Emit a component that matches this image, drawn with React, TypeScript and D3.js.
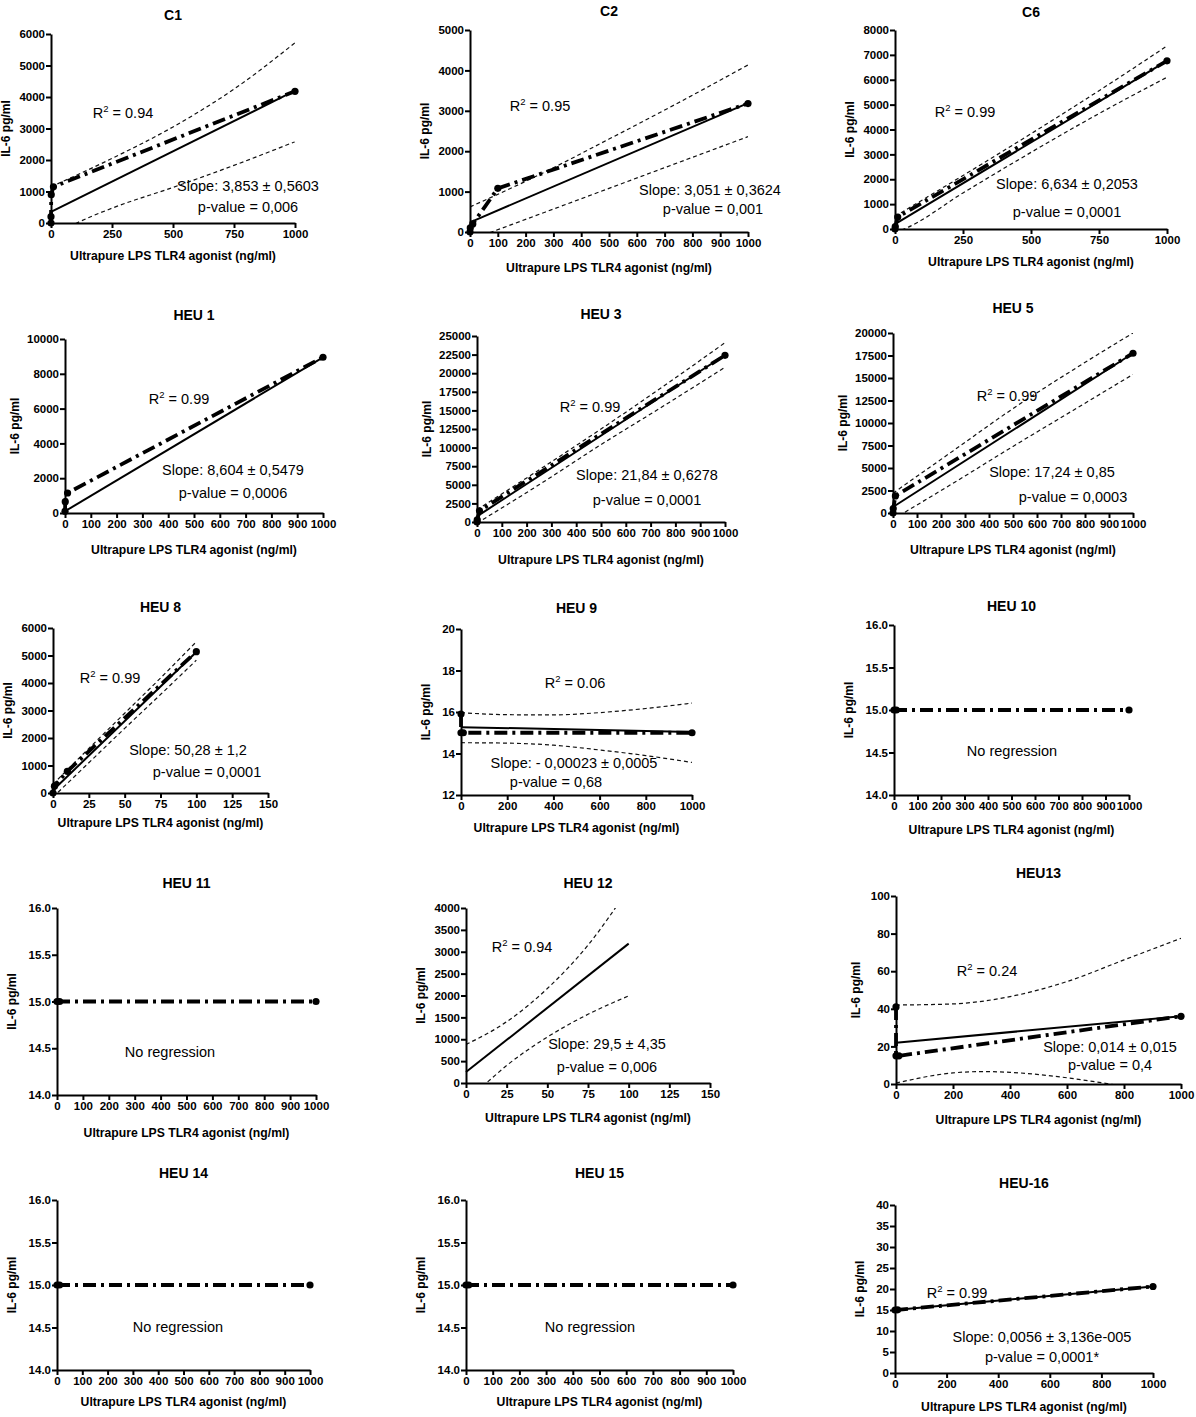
import React, { useEffect, useRef } from "react";
import * as d3 from "d3";

type Pt = [number, number];

// tick labels
const ticks1000by250 = [0, 250, 500, 750, 1000];
const ticks1000by100 = [0, 100, 200, 300, 400, 500, 600, 700, 800, 900, 1000];
const ticks1000by200 = [0, 200, 400, 600, 800, 1000];
const ticks150by25 = [0, 25, 50, 75, 100, 125, 150];

// C1
const c1Points: Pt[] = [[0, 0], [0, 200], [1, 900], [10, 1150], [1000, 4180]];
const c1Fit: Pt[] = [[0, 350], [1000, 4200]];
const c1Upper: Pt[] = [[0, 1150], [250, 2050], [500, 3050], [750, 4250], [1000, 5720]];
const c1Lower: Pt[] = [[0, -450], [106, 0], [250, 470], [500, 1130], [750, 1830], [1000, 2580]];

// C2
const c2Points: Pt[] = [[0, 0], [1, 100], [10, 200], [100, 1080], [1000, 3180]];
const c2Fit: Pt[] = [[0, 240], [1000, 3190]];
const c2Upper: Pt[] = [[0, 620], [250, 1420], [500, 2300], [750, 3200], [1000, 4135]];
const c2Lower: Pt[] = [[0, -200], [78, 0], [250, 440], [500, 1080], [750, 1720], [1000, 2360]];

// C6
const c6Points: Pt[] = [[0, 0], [1, 100], [10, 480], [1000, 6760]];
const c6Fit: Pt[] = [[0, 200], [1000, 6760]];
const c6Upper: Pt[] = [[0, 510], [250, 2150], [500, 3830], [750, 5560], [1000, 7360]];
const c6Lower: Pt[] = [[0, -130], [33, 0], [250, 1450], [500, 3080], [750, 4640], [1000, 6100]];

// HEU 1
const heu1Points: Pt[] = [[0, 100], [1, 650], [10, 1150], [1000, 8950]];
const heu1Fit: Pt[] = [[0, 100], [1000, 8950]];

// HEU 3
const heu3Points: Pt[] = [[0, 0], [1, 300], [10, 1500], [1000, 22400]];
const heu3Fit: Pt[] = [[0, 760], [1000, 22450]];
const heu3Upper: Pt[] = [[0, 1650], [250, 7000], [500, 12500], [750, 18200], [1000, 24100]];
const heu3Lower: Pt[] = [[0, -150], [250, 5000], [500, 10400], [750, 15550], [1000, 20800]];

// HEU 5
const heu5Points: Pt[] = [[0, 0], [1, 500], [10, 1900], [1000, 17750]];
const heu5Fit: Pt[] = [[0, 670], [1000, 17750]];
const heu5Upper: Pt[] = [[0, 2200], [250, 6900], [500, 11600], [750, 15900], [1000, 20000]];
const heu5Lower: Pt[] = [[0, -700], [250, 3300], [500, 7400], [750, 11400], [1000, 15400]];

// HEU 8
const heu8Points: Pt[] = [[0, 0], [1, 250], [10, 790], [100, 5140]];
const heu8Fit: Pt[] = [[0, 100], [100, 5130]];
const heu8Upper: Pt[] = [[0, 320], [25, 1620], [50, 2900], [75, 4180], [100, 5500]];
const heu8Lower: Pt[] = [[0, -150], [25, 1100], [50, 2350], [75, 3580], [100, 4830]];

// HEU 9
const heu9Points: Pt[] = [[0, 15.9], [0, 15], [10, 15], [1000, 15]];
const heu9Fit: Pt[] = [[0, 15.27], [1000, 15.04]];
const heu9Upper: Pt[] = [[0, 15.97], [200, 15.87], [400, 15.86], [600, 15.97], [800, 16.17], [1000, 16.43]];
const heu9Lower: Pt[] = [[0, 14.52], [200, 14.5], [400, 14.4], [600, 14.17], [800, 13.9], [1000, 13.57]];

// HEU 10, 11, 14, 15 (no regression)
const heu10Points: Pt[] = [[0, 15], [10, 15], [1000, 15]];
const heu11Points: Pt[] = [[0, 15], [10, 15], [1000, 15]];
const heu14Points: Pt[] = [[0, 15], [10, 15], [1000, 15]];
const heu15Points: Pt[] = [[0, 15], [10, 15], [1000, 15]];

// HEU 12
const heu12Fit: Pt[] = [[0, 250], [100, 3185]];
const heu12Upper: Pt[] = [[0, 880], [25, 1400], [50, 2160], [75, 3150], [100, 4450]];
const heu12Lower: Pt[] = [[0, -380], [12.5, 0], [25, 400], [50, 1050], [75, 1570], [100, 1990]];

// HEU13
const heu13Points: Pt[] = [[0, 41], [0, 15], [10, 15], [1000, 36]];
const heu13Fit: Pt[] = [[0, 22], [1000, 36]];
const heu13Upper: Pt[] = [[0, 42], [200, 42.6], [400, 46.5], [600, 54.5], [800, 66], [1000, 77.5]];
const heu13Lower: Pt[] = [[0, 0.5], [200, 5.9], [300, 6.6], [400, 6.2], [600, 3.3], [750, 0], [1000, -6]];

// HEU-16
const heu16Points: Pt[] = [[0, 15], [10, 15.05], [1000, 20.6]];
const heu16Fit: Pt[] = [[0, 15], [1000, 20.6]];

interface Panel {
  title: string;
  box: [number, number, number, number]; // left, right, top, bottom
  titleY: number;
  xLabelY: number;
  xDomain: [number, number];
  xTicks: number[];
  yDomain: [number, number];
  yStep: number;
  yFmt?: string;
  points?: Pt[];
  fit?: Pt[];
  upper?: Pt[];
  lower?: Pt[];
  r2?: string;
  slope?: string;
  pval?: string;
  r2At?: Pt;
  slopeAt?: Pt;
  pAt?: Pt;
  noRegAt?: Pt;
}

const panels: Panel[] = [
  {
    title: "C1", box: [51, 295, 34, 223], titleY: 15, xLabelY: 256,
    xDomain: [0, 1000], xTicks: ticks1000by250, yDomain: [0, 6000], yStep: 1000,
    points: c1Points, fit: c1Fit, upper: c1Upper, lower: c1Lower,
    r2: "0.94", slope: "Slope: 3,853 ± 0,5603", pval: "p-value = 0,006",
    r2At: [123, 113], slopeAt: [248, 186], pAt: [248, 207],
  },
  {
    title: "C2", box: [470, 748, 30, 232], titleY: 11, xLabelY: 268,
    xDomain: [0, 1000], xTicks: ticks1000by100, yDomain: [0, 5000], yStep: 1000,
    points: c2Points, fit: c2Fit, upper: c2Upper, lower: c2Lower,
    r2: "0.95", slope: "Slope: 3,051 ± 0,3624", pval: "p-value = 0,001",
    r2At: [540, 106], slopeAt: [710, 190], pAt: [713, 209],
  },
  {
    title: "C6", box: [895, 1167, 30, 229], titleY: 12, xLabelY: 262,
    xDomain: [0, 1000], xTicks: ticks1000by250, yDomain: [0, 8000], yStep: 1000,
    points: c6Points, fit: c6Fit, upper: c6Upper, lower: c6Lower,
    r2: "0.99", slope: "Slope: 6,634 ± 0,2053", pval: "p-value = 0,0001",
    r2At: [965, 112], slopeAt: [1067, 184], pAt: [1067, 212],
  },
  {
    title: "HEU 1", box: [65, 323, 339, 513], titleY: 315, xLabelY: 550,
    xDomain: [0, 1000], xTicks: ticks1000by100, yDomain: [0, 10000], yStep: 2000,
    points: heu1Points, fit: heu1Fit,
    r2: "0.99", slope: "Slope: 8,604 ± 0,5479", pval: "p-value = 0,0006",
    r2At: [179, 399], slopeAt: [233, 470], pAt: [233, 493],
  },
  {
    title: "HEU 3", box: [477, 725, 336, 522], titleY: 314, xLabelY: 560,
    xDomain: [0, 1000], xTicks: ticks1000by100, yDomain: [0, 25000], yStep: 2500,
    points: heu3Points, fit: heu3Fit, upper: heu3Upper, lower: heu3Lower,
    r2: "0.99", slope: "Slope: 21,84 ± 0,6278", pval: "p-value = 0,0001",
    r2At: [590, 407], slopeAt: [647, 475], pAt: [647, 500],
  },
  {
    title: "HEU 5", box: [893, 1133, 333, 513], titleY: 308, xLabelY: 550,
    xDomain: [0, 1000], xTicks: ticks1000by100, yDomain: [0, 20000], yStep: 2500,
    points: heu5Points, fit: heu5Fit, upper: heu5Upper, lower: heu5Lower,
    r2: "0.99", slope: "Slope: 17,24 ± 0,85", pval: "p-value = 0,0003",
    r2At: [1007, 396], slopeAt: [1052, 472], pAt: [1073, 497],
  },
  {
    title: "HEU 8", box: [53, 268, 628, 793], titleY: 607, xLabelY: 823,
    xDomain: [0, 150], xTicks: ticks150by25, yDomain: [0, 6000], yStep: 1000,
    points: heu8Points, fit: heu8Fit, upper: heu8Upper, lower: heu8Lower,
    r2: "0.99", slope: "Slope: 50,28 ± 1,2", pval: "p-value = 0,0001",
    r2At: [110, 678], slopeAt: [188, 750], pAt: [207, 772],
  },
  {
    title: "HEU 9", box: [461, 692, 629, 795], titleY: 608, xLabelY: 828,
    xDomain: [0, 1000], xTicks: ticks1000by200, yDomain: [12, 20], yStep: 2,
    points: heu9Points, fit: heu9Fit, upper: heu9Upper, lower: heu9Lower,
    r2: "0.06", slope: "Slope: - 0,00023 ± 0,0005", pval: "p-value = 0,68",
    r2At: [575, 683], slopeAt: [574, 763], pAt: [556, 782],
  },
  {
    title: "HEU 10", box: [894, 1129, 625, 795], titleY: 606, xLabelY: 830,
    xDomain: [0, 1000], xTicks: ticks1000by100, yDomain: [14, 16], yStep: 0.5, yFmt: ".1f",
    points: heu10Points, noRegAt: [1012, 751],
  },
  {
    title: "HEU 11", box: [57, 316, 908, 1095], titleY: 883, xLabelY: 1133,
    xDomain: [0, 1000], xTicks: ticks1000by100, yDomain: [14, 16], yStep: 0.5, yFmt: ".1f",
    points: heu11Points, noRegAt: [170, 1052],
  },
  {
    title: "HEU 12", box: [466, 710, 908, 1083], titleY: 883, xLabelY: 1118,
    xDomain: [0, 150], xTicks: ticks150by25, yDomain: [0, 4000], yStep: 500,
    fit: heu12Fit, upper: heu12Upper, lower: heu12Lower,
    r2: "0.94", slope: "Slope: 29,5 ± 4,35", pval: "p-value = 0,006",
    r2At: [522, 947], slopeAt: [607, 1044], pAt: [607, 1067],
  },
  {
    title: "HEU13", box: [896, 1181, 896, 1084], titleY: 873, xLabelY: 1120,
    xDomain: [0, 1000], xTicks: ticks1000by200, yDomain: [0, 100], yStep: 20,
    points: heu13Points, fit: heu13Fit, upper: heu13Upper, lower: heu13Lower,
    r2: "0.24", slope: "Slope: 0,014 ± 0,015", pval: "p-value = 0,4",
    r2At: [987, 971], slopeAt: [1110, 1047], pAt: [1110, 1065],
  },
  {
    title: "HEU 14", box: [57, 310, 1200, 1370], titleY: 1173, xLabelY: 1402,
    xDomain: [0, 1000], xTicks: ticks1000by100, yDomain: [14, 16], yStep: 0.5, yFmt: ".1f",
    points: heu14Points, noRegAt: [178, 1327],
  },
  {
    title: "HEU 15", box: [466, 733, 1200, 1370], titleY: 1173, xLabelY: 1402,
    xDomain: [0, 1000], xTicks: ticks1000by100, yDomain: [14, 16], yStep: 0.5, yFmt: ".1f",
    points: heu15Points, noRegAt: [590, 1327],
  },
  {
    title: "HEU-16", box: [895, 1153, 1205, 1373], titleY: 1183, xLabelY: 1407,
    xDomain: [0, 1000], xTicks: ticks1000by200, yDomain: [0, 40], yStep: 5,
    points: heu16Points, fit: heu16Fit,
    r2: "0.99", slope: "Slope: 0,0056 ± 3,136e-005", pval: "p-value = 0,0001*",
    r2At: [957, 1293], slopeAt: [1042, 1337], pAt: [1042, 1357],
  },
];

const FONT = "'Liberation Sans', Arial, Helvetica, sans-serif";

const App: React.FC = () => {
  const svgRef = useRef<SVGSVGElement>(null);

  useEffect(() => {
    if (!svgRef.current) return;
    const svg = d3.select(svgRef.current);
    svg.selectAll("*").remove();

    svg.append("rect").attr("width", 1196).attr("height", 1417).attr("fill", "#fff");

    panels.forEach((p, i) => {
      const [left, right, top, bottom] = p.box;
      const x = d3.scaleLinear().domain(p.xDomain).range([left, right]);
      const y = d3.scaleLinear().domain(p.yDomain).range([bottom, top]);
      const g = svg.append("g").attr("font-family", FONT);

      const clipId = `clip-${i}`;
      g.append("clipPath")
        .attr("id", clipId)
        .append("rect")
        .attr("x", left)
        .attr("y", top)
        .attr("width", right - left)
        .attr("height", bottom - top);

      const straight = d3.line<Pt>().x((d) => x(d[0])).y((d) => y(d[1]));
      const curved = d3
        .line<Pt>()
        .x((d) => x(d[0]))
        .y((d) => y(d[1]))
        .curve(d3.curveMonotoneX);

      // confidence bands
      [p.upper, p.lower].forEach((b) => {
        if (!b) return;
        g.append("path")
          .attr("d", curved(b))
          .attr("fill", "none")
          .attr("stroke", "#111")
          .attr("stroke-width", 1.2)
          .attr("stroke-dasharray", "4,3")
          .attr("clip-path", `url(#${clipId})`);
      });

      // regression line
      if (p.fit) {
        g.append("path")
          .attr("d", straight(p.fit))
          .attr("fill", "none")
          .attr("stroke", "#000")
          .attr("stroke-width", 2);
      }

      // data (dash-dot)
      if (p.points) {
        g.append("path")
          .attr("d", straight(p.points))
          .attr("fill", "none")
          .attr("stroke", "#000")
          .attr("stroke-width", 3.8)
          .attr("stroke-dasharray", "13,5,3,5");
        g.selectAll("circle.pt")
          .data(p.points)
          .join("circle")
          .attr("class", "pt")
          .attr("cx", (d) => x(d[0]))
          .attr("cy", (d) => y(d[1]))
          .attr("r", 3.6)
          .attr("fill", "#000");
      }

      // axes
      const yTicks = d3.range(p.yDomain[0], p.yDomain[1] + p.yStep / 2, p.yStep);
      const yFmt = p.yFmt ? d3.format(p.yFmt) : (d: d3.NumberValue) => String(d);

      const styleAxis = (a: d3.Selection<SVGGElement, unknown, null, undefined>) => {
        a.select(".domain").attr("stroke-width", 2).attr("stroke", "#000");
        a.selectAll(".tick line").attr("stroke-width", 2).attr("stroke", "#000");
        a.selectAll(".tick text")
          .attr("font-family", FONT)
          .attr("font-weight", "bold")
          .attr("font-size", 11.5)
          .attr("fill", "#000");
      };

      g.append("g")
        .attr("transform", `translate(0,${bottom})`)
        .call(
          d3
            .axisBottom(x)
            .tickValues(p.xTicks)
            .tickFormat((d) => String(d))
            .tickSize(5)
            .tickSizeOuter(0)
            .tickPadding(2)
        )
        .call(styleAxis);

      g.append("g")
        .attr("transform", `translate(${left},0)`)
        .call(
          d3
            .axisLeft(y)
            .tickValues(yTicks)
            .tickFormat(yFmt as any)
            .tickSize(5)
            .tickSizeOuter(0)
            .tickPadding(1)
        )
        .call(styleAxis);

      // titles and labels
      g.append("text")
        .attr("x", (left + right) / 2)
        .attr("y", p.titleY)
        .attr("dy", "0.35em")
        .attr("text-anchor", "middle")
        .attr("font-weight", "bold")
        .attr("font-size", 14)
        .text(p.title);

      g.append("text")
        .attr("x", (left + right) / 2)
        .attr("y", p.xLabelY)
        .attr("dy", "0.35em")
        .attr("text-anchor", "middle")
        .attr("font-weight", "bold")
        .attr("font-size", 12.2)
        .text("Ultrapure LPS TLR4 agonist (ng/ml)");

      const maxLen = d3.max(yTicks, (t) => yFmt(t).length) ?? 4;
      const ylx = left - (4.8 * maxLen + 26);
      g.append("text")
        .attr("transform", `translate(${ylx},${(top + bottom) / 2}) rotate(-90)`)
        .attr("dy", "0.35em")
        .attr("text-anchor", "middle")
        .attr("font-weight", "bold")
        .attr("font-size", 12)
        .text("IL-6 pg/ml");

      // annotations
      if (p.r2 && p.r2At) {
        const t = g
          .append("text")
          .attr("x", p.r2At[0])
          .attr("y", p.r2At[1])
          .attr("dy", "0.35em")
          .attr("text-anchor", "middle")
          .attr("font-size", 14.5);
        t.append("tspan").text("R");
        t.append("tspan").attr("dy", -6).attr("font-size", 9.5).text("2");
        t.append("tspan").attr("dy", 6).text(` = ${p.r2}`);
      }
      if (p.slope && p.slopeAt) {
        g.append("text")
          .attr("x", p.slopeAt[0])
          .attr("y", p.slopeAt[1])
          .attr("dy", "0.35em")
          .attr("text-anchor", "middle")
          .attr("font-size", 14.5)
          .text(p.slope);
      }
      if (p.pval && p.pAt) {
        g.append("text")
          .attr("x", p.pAt[0])
          .attr("y", p.pAt[1])
          .attr("dy", "0.35em")
          .attr("text-anchor", "middle")
          .attr("font-size", 14.5)
          .text(p.pval);
      }
      if (p.noRegAt) {
        g.append("text")
          .attr("x", p.noRegAt[0])
          .attr("y", p.noRegAt[1])
          .attr("dy", "0.35em")
          .attr("text-anchor", "middle")
          .attr("font-size", 14.5)
          .text("No regression");
      }
    });
  }, []);

  return (
    <svg
      ref={svgRef}
      width={1196}
      height={1417}
      style={{ position: "absolute", left: 0, top: 0, display: "block" }}
    />
  );
};

export default App;
